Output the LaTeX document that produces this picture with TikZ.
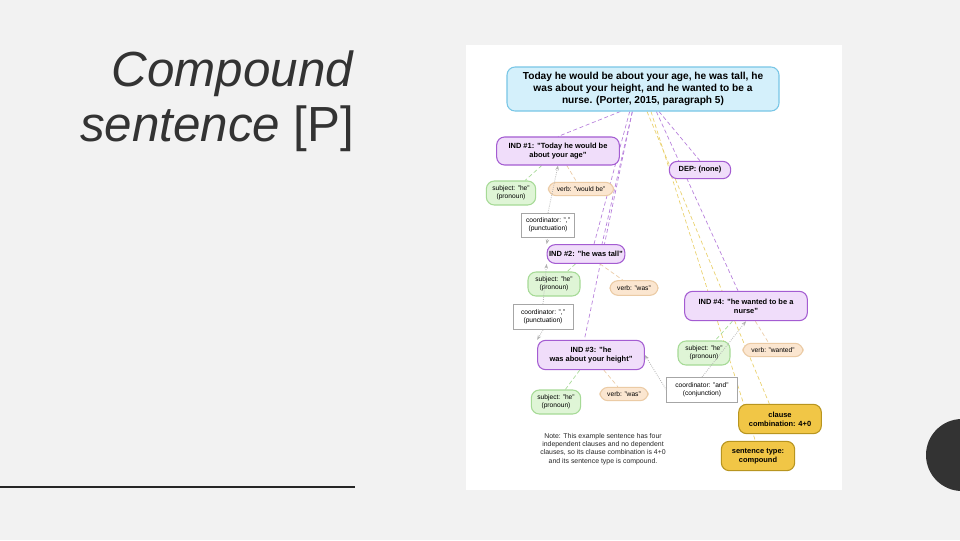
\documentclass[tikz,border=0pt]{standalone}
\usepackage{fontspec}
\setmainfont{Liberation Sans}
\usetikzlibrary{arrows.meta,backgrounds}
\definecolor{bg}{HTML}{F2F2F2}
\definecolor{bluef}{HTML}{D4F0FB}\definecolor{blued}{HTML}{78C6E6}
\definecolor{purf}{HTML}{F0DDFA}\definecolor{purd}{HTML}{A45CD2}
\definecolor{grnf}{HTML}{DFF5D6}\definecolor{grnd}{HTML}{A6DA96}
\definecolor{orf}{HTML}{FBE6D0}\definecolor{ord}{HTML}{EBCBA5}
\definecolor{yelf}{HTML}{F1C646}\definecolor{yeld}{HTML}{B8951F}
\definecolor{yell}{HTML}{EAD06A}
\begin{document}
\begin{tikzpicture}[x=0.75pt,y=-0.75pt,
 base/.style={rounded corners=6pt,align=center,inner sep=1.5pt,line width=0.8pt},
 topbox/.style={base,draw=blued,fill=bluef,font=\fontsize{7.6}{9.2}\selectfont\bfseries,minimum width=204pt,minimum height=33pt},
 indbox/.style={base,draw=purd,fill=purf,font=\fontsize{5.6}{7}\selectfont\bfseries},
 subbox/.style={base,draw=grnd,fill=grnf,font=\fontsize{5}{6}\selectfont},
 verbbox/.style={base,draw=ord,fill=orf,font=\fontsize{5}{6}\selectfont},
 coordbox/.style={draw=gray!70,fill=white,align=center,inner sep=1.5pt,font=\fontsize{5}{6}\selectfont,line width=0.4pt},
 yelbox/.style={base,draw=yeld,fill=yelf,font=\fontsize{5.6}{7}\selectfont\bfseries},
 pl/.style={purd!80,densely dashed,line width=0.5pt},
 gl/.style={grnd,densely dashed,line width=0.5pt},
 ol/.style={ord,densely dashed,line width=0.5pt},
 yl/.style={yell,densely dashed,line width=0.5pt},
 cl/.style={gray!60,densely dotted,line width=0.6pt,-{Stealth[length=3.5pt]}}]
\begin{scope}[on background layer]
\fill[bg] (0,0) rectangle (960,540);
\fill[white] (466,45) rectangle (842,490);
\end{scope}
\useasboundingbox (0,0) rectangle (960,540);
\node[anchor=east,align=right,font=\fontsize{37}{41}\selectfont,text=black!80] (title) at (359,101) {\textit{Compound}\\\textit{sentence} [P]};
\draw[line width=2.2pt,black!85] (0,487) -- (355,487);
\fill[black!80] (962,455) circle (36);
% nodes
\node[topbox] (top) at (643,89) {Today he would be about your age, he was tall, he\\was about your height, and he wanted to be a\\nurse. (Porter, 2015, paragraph 5)};
\node[indbox,minimum width=92pt,minimum height=21pt] (i1) at (558,151) {IND \#1: "Today he would be\\about your age"};
\node[indbox,minimum width=46pt,minimum height=13pt] (dep) at (700,170) {DEP: (none)};
\node[subbox,minimum width=37pt,minimum height=18pt] (s1) at (511,193) {subject: "he"\\(pronoun)};
\node[verbbox,minimum width=49pt,minimum height=10pt] (v1) at (581,189) {verb: "would be"};
\node[coordbox,minimum width=40pt,minimum height=18pt] (c1) at (548,225) {coordinator: ","\\(punctuation)};
\node[indbox,minimum width=49pt,minimum height=14pt] (i2) at (586,254) {IND \#2: "he was tall"};
\node[subbox,minimum width=39pt,minimum height=18pt] (s2) at (554,284) {subject: "he"\\(pronoun)};
\node[verbbox,minimum width=36pt,minimum height=11pt] (v2) at (634,288) {verb: "was"};
\node[coordbox,minimum width=45pt,minimum height=19pt] (c2) at (543,317) {coordinator: ","\\(punctuation)};
\node[indbox,minimum width=80pt,minimum height=22pt] (i3) at (591,355) {IND \#3: "he\\was about your height"};
\node[indbox,minimum width=92pt,minimum height=22pt] (i4) at (746,306) {IND \#4: "he wanted to be a\\nurse"};
\node[subbox,minimum width=39pt,minimum height=18pt] (s4) at (704,353) {subject: "he"\\(pronoun)};
\node[verbbox,minimum width=45pt,minimum height=10pt] (v4) at (773,350) {verb: "wanted"};
\node[subbox,minimum width=37pt,minimum height=18pt] (s3) at (556,402) {subject: "he"\\(pronoun)};
\node[verbbox,minimum width=36pt,minimum height=10pt] (v3) at (624,394) {verb: "was"};
\node[coordbox,minimum width=53pt,minimum height=19pt] (c3) at (702,390) {coordinator: "and"\\(conjunction)};
\node[yelbox,minimum width=62pt,minimum height=22pt] (cc) at (780,419) {clause\\combination: 4+0};
\node[yelbox,minimum width=55pt,minimum height=22pt] (st) at (758,456) {sentence type:\\compound};
\node[align=center,font=\fontsize{5.2}{6.2}\selectfont,text=black!85] (note) at (603,449) {Note: This example sentence has four\\independent clauses and no dependent\\clauses, so its clause combination is 4+0\\and its sentence type is compound.};
% connectors
\begin{scope}[on background layer]
\draw[pl] ([xshift=-17pt]top.south) -- (i1.north);
\draw[pl] ([xshift=-10pt]top.south) -- ([xshift=6pt]i2.north);
\draw[pl] ([xshift=-8pt]top.south) -- ([xshift=12pt]i2.north);
\draw[pl] ([xshift=-8pt]top.south) -- ([xshift=-5pt]i3.north);
\draw[pl] ([xshift=12pt]top.south) -- (dep.north);
\draw[pl] ([xshift=10pt]top.south) -- ([xshift=-6pt]i4.north);
\draw[yl] ([xshift=3pt]top.south) -- ([xshift=-8pt]cc.north);
\draw[yl] ([xshift=6pt]top.south) -- ([xshift=-2pt]st.north);
\draw[gl] (i1) -- (s1); \draw[ol] (i1) -- (v1);
\draw[gl] (i2) -- (s2); \draw[ol] (i2) -- (v2);
\draw[gl] (i3) -- (s3); \draw[ol] (i3) -- (v3);
\draw[gl] (i4) -- (s4); \draw[ol] (i4) -- (v4);
\end{scope}
\draw[cl] (c1.north) -- (i1.south);
\draw[cl] (c1.south) -- (i2.north west);
\draw[cl] (c2.north) -- (i2.south west);
\draw[cl] (c2.south) -- (i3.north west);
\draw[cl] (c3.west) -- (i3.east);
\draw[cl] (c3.north) -- (i4.south);
\end{tikzpicture}
\end{document}
